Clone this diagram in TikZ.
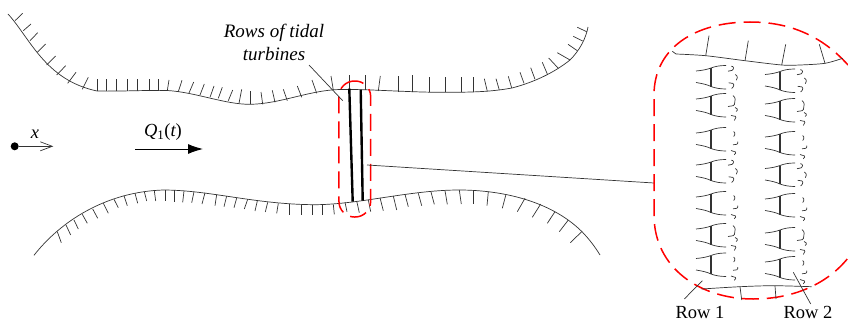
\documentclass[tikz,border=0pt]{standalone}
\usepackage{fontspec}
\setmainfont{Liberation Serif}
\usetikzlibrary{arrows.meta}

\tikzset{
wall/.style={line width=0.7pt,black!80},
reddash/.style={red,line width=1.5pt,dash pattern=on 17pt off 8pt},
lbl/.style={font=\fontsize{18.5}{23}\selectfont,inner sep=0pt},
turbine/.pic={
    \draw[line width=1.1pt,black!80] (0,-9.5) -- (0,9);
    \draw[wall] (-15,-6.5) .. controls (-9,-7) and (-4,-8) .. (0,-9.5) .. controls (4,-11) and (8,-12) .. (15,-12);
    \draw[wall] (-15,5) .. controls (-9,6) and (-4,7) .. (0,9) .. controls (4,10.5) and (9,11.5) .. (15,11.5);
},
wakea/.pic={
    \draw[wall,rounded corners=1pt] (17,-6.3) -- (22,-7.3) -- (22.7,-10.7) -- (20.3,-11.3);
    \draw[wall,rounded corners=1pt] (24.3,-3) -- (26.7,-0.7) -- (25.3,2.7);
    \draw[wall,rounded corners=1pt] (17.7,5.3) -- (22.7,6) -- (22.7,9) -- (20.7,11);
},
wakeb/.pic={
    \draw[wall,rounded corners=1pt] (22,-10) -- (24.3,-7.3) -- (23.3,0) -- (17,1);
    \draw[wall,rounded corners=1pt] (24,2) -- (27,4) -- (25,6);
    \draw[wall,rounded corners=1pt] (20,10) -- (25.3,11) -- (23.3,15);
},
wakec/.pic={
    \draw[wall,rounded corners=1pt] (22.7,-8) -- (24.3,-5.7) -- (22.7,-3);
    \draw[wall,rounded corners=1pt] (22,5.3) -- (26.7,4.7) -- (26.7,2);
    \draw[wall,rounded corners=1pt] (20,11) -- (25.3,12.7) -- (23.3,15.3);
}
}

\begin{document}
\begin{tikzpicture}[x=1pt,y=-1pt]
\useasboundingbox (0,0) rectangle (848,321);

%---------------- Channel walls ----------------
\draw[wall] (8,14) .. controls (30,38) and (45,80) .. (97,91) .. controls (120,91.5) and (150,90) .. (167,90.5) .. controls (195,92) and (225,104.5) .. (250,104.3) .. controls (280,104) and (310,90) .. (340,89.5) .. controls (370,89) and (410,92.5) .. (445,92.3) .. controls (470,92.3) and (490,92) .. (512,88) .. controls (535,82) and (555,72) .. (570,60) .. controls (580,50) and (586,38) .. (588,27);
\draw[wall] (34,255.3) .. controls (60,222) and (105,192) .. (163,190) .. controls (210,190) and (255,204.5) .. (315,204.7) .. controls (360,204.5) and (410,190) .. (459,190) .. controls (500,190) and (550,200) .. (582,231.7) .. controls (590,240) and (595,247) .. (600,255);

\foreach \xa/\ya/\xb/\yb in {15/20.7/22.7/13.3,23.3/30.7/31/24,30/40.7/37.7/32.7,37.3/52.3/45.7/44,46.7/65/55.7/56,56.7/75/65.7/65.7,67.7/83.3/76/72.3,82.3/89.3/88.3/77.3,97/91/97/78.7,106.7/91.3/106.7/79.3,116.7/91.3/116.7/78.7,127/91.3/127/78.7,137.3/91/137.3/78.7,149/91/149/78.7,158.7/90.7/158.7/78.7,167.3/90.7/169/80,178.3/91.7/182/80.3,189/93/193.7/82,200/95/204.3/84,210/97.3/214/86,218.3/98.3/222.3/87.3,228.3/100.7/232.7/90,239/103.3/241.7/89.3,250.7/104.3/250.7/91.3,262.7/104.3/261/92,275/102.3/272.3/90.3,287.3/100.7/283.3/89.3,301.7/97.3/297.3/86,316.7/93.3/312/80,333.3/90/331/76,349.3/88.7/349.3/75.3,365/90/365/75.3,378.3/91/380.3/76,398.3/91.7/398.3/76,412/92.3/412/75.3,429/92.3/429/77.3,445.7/92.3/445.7/77.3,461.7/92.3/461.7/77.3,473.3/92/473.3/77.3,487.3/91.3/484.3/78.7,499.3/90/496/78.7,511.7/88/508.3/76.3,524/83.3/520/72.3,535/79.3/530.7/67.7,547.3/74/542.3/62.3,558.3/68.3/548.7/58,570/60/557.3/52.7,577.3/50.7/568/44.3,582.7/41/573.3/36.3,586.7/31.7/577.3/27.3}
    \draw[wall] (\xa,\ya) -- (\xb,\yb);

\foreach \xa/\ya/\xb/\yb in {57.3/231.7/61.3/242.7,66/225/70.7/235,74/220/78.3/229,82.3/214.3/87.3/223.3,92.7/209/97.7/218.3,103.3/203.3/108.3/213.3,114/199.3/118.3/207.7,124/195.7/127.3/205.7,135/193.3/137.7/203.3,144.3/191.7/146.7/201,154.3/190.7/155.7/201,165/190/165/201,174.7/190.3/174.7/202,184/190.7/182.7/202.3,194/191.7/191.7/202.7,205/192.7/202/204,216.7/194.3/215/205.7,226.7/196/224/206.7,236.7/198/234/207.7,247.7/199.3/244.3/209,257.3/201/255/211,267.7/202.3/265.3/212,278.3/203.3/276.7/213.3,289.3/204/289.3/214.7,301.7/204.7/301.7/214.7,312.7/204.7/312.7/214.7,322.7/204.7/322.7/214.7,333.3/204.3/334.3/214.3,345/202.3/347/211.7,356.7/201/359.3/212.7,368.3/200/370.7/211.7,380/197.7/383.3/210.7,393.3/196/396.7/210,405/194.3/408.3/206.7,418.3/193.3/421.7/205.7,431/192/434.3/204.3,445/190.7/447.3/204.3,459.3/190/461.3/204,473.3/190.3/473.3/204,488.3/191.7/487/205.7,506/194.3/502.3/208.3,525/198.3/517.3/211.7,540.7/204/532.3/217.3,555/211.7/547.3/223.3,568.3/220/559.3/231.7,581.7/231.7/570.3/242.7}
    \draw[wall] (\xa,\ya) -- (\xb,\yb);

%---------------- Axis and flow ----------------
\node[circle,fill=black,inner sep=0pt,minimum size=8pt] (origin) at (14.7,146.3) {};
\coordinate (xend) at (53.3,146.3);
\draw[wall,-{Straight Barb[length=12pt,width=9pt]}] (origin) -- (xend);
\node[lbl] (xlabel) at (35,134) {\itshape x};

\coordinate (flowa) at (135,149);
\coordinate (flowb) at (203,149);
\draw[line width=1pt,-{Latex[length=15pt,width=10pt]}] (flowa) -- (flowb);
\node[lbl] (flowlabel) at (163,132) {{\itshape Q}\textsubscript{1}({\itshape t})};

%---------------- Turbine rows ----------------
\coordinate (rowaT) at (349.3,88.7);
\coordinate (rowaB) at (352.7,201.7);
\coordinate (rowbT) at (360.7,89.7);
\coordinate (rowbB) at (362.7,200.7);
\draw[line width=2.4pt] (rowaT) -- (rowaB);
\draw[line width=2.4pt] (rowbT) -- (rowbB);

\node[draw,reddash,rounded corners=15.5pt,minimum width=31.7pt,minimum height=136pt,inner sep=0pt] (blob) at (354.8,149) {};

\node[lbl,align=center,font=\fontsize{19}{23}\selectfont\itshape] (rowslabel) at (274,42) {Rows of tidal\\turbines};
\coordinate (rowsend) at (342.7,100.7);
\coordinate (rowsstart) at (309,65);
\draw[wall] (rowsstart) -- (rowsend);

%---------------- Close-up ----------------
\coordinate (zooma) at (367,165);
\coordinate (zoomb) at (654,183);
\draw[wall] (zooma) -- (zoomb);

\draw[reddash] (848,65) .. controls (822,36) and (790,22) .. (750,22) .. controls (695,22) and (654,48) .. (654,95) -- (654,215) .. controls (654,268) and (700,299) .. (753,299) .. controls (795,299) and (828,283) .. (848,258);

\draw[wall] plot[smooth,tension=0.5] coordinates {(676,54) (705.7,55.7) (745,60.7) (781.7,65) (800,65) (825,63.3) (842.7,58.3)};
\draw[wall] (672.3,51.3) -- (676,54);
\draw[wall] plot[smooth,tension=0.5] coordinates {(701.7,289) (740,286.7) (773.3,285.7) (811.7,286.7)};
\foreach \xa/\ya/\xb/\yb in {705.7/55.7/709/35.7,745/60.7/748.3/40.7,781.7/65/785.7/44.3,825/63.3/819.3/44.3,740/286.7/741.7/300,775/286/776/299}
    \draw[wall] (\xa,\ya) -- (\xb,\yb);

\foreach \ya/\yb/\kind in {77.5/81/a,105.5/110.5/b,139.5/143.5/c,171.5/175/a,203.5/205.5/c,235.5/239.5/b,265/268.5/c} {
    \pic at (711,\ya) {turbine};
    \pic at (711,\ya) {wake\kind};
    \pic at (780,\yb) {turbine};
    \pic at (780,\yb) {wake\kind};
}

\node[lbl] (rowone) at (700,312.5) {Row 1};
\node[lbl] (rowtwo) at (808,312.5) {Row 2};
\coordinate (rowonetip) at (702.3,280.7);
\coordinate (rowonefoot) at (684.3,299);
\coordinate (rowtwotip) at (793.3,272.3);
\coordinate (rowtwofoot) at (810.7,304);
\draw[wall] (rowonefoot) -- (rowonetip);
\draw[wall] (rowtwofoot) -- (rowtwotip);

\end{tikzpicture}
\end{document}
